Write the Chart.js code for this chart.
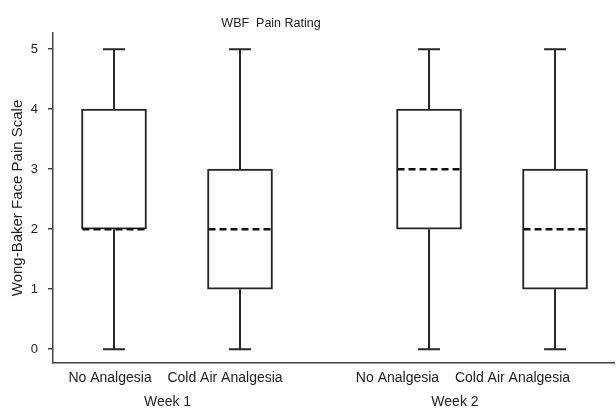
<!DOCTYPE html>
<html>
<head>
<meta charset="utf-8">
<script src="https://cdn.jsdelivr.net/npm/chart.js@4.4.1/dist/chart.umd.min.js"></script>
<style>
html, body { margin: 0; padding: 0; background: #fff; }
#wrap { width: 616px; height: 408px; }
</style>
</head>
<body>
<div id="wrap"><canvas id="boxChart"></canvas></div>
<script>
// WBF pain rating, box plot per group
const groups = ['Week 1', 'Week 2'];
const categories = ['No Analgesia', 'Cold Air Analgesia', 'No Analgesia', 'Cold Air Analgesia'];
const positions = [1, 2, 3.5, 4.5];
const mins = [0, 0, 0, 0];
const q1s = [2, 1, 2, 1];
const medians = [2, 2, 3, 2];
const q3s = [4, 3, 4, 3];
const maxs = [5, 5, 5, 5];
const yTicks = [0, 1, 2, 3, 4, 5];

const CAP = 0.087;   // half width of whisker caps (x units)
const HALF = 0.25;   // half width of the box (x units)
const FONT = "'Liberation Sans', Arial, Helvetica, sans-serif";
const INK = '#262626';

const groupPos = [(positions[0] + positions[1]) / 2, (positions[2] + positions[3]) / 2];

const whiskers = [];
const medianLines = [];
positions.forEach((x, i) => {
    whiskers.push({x: x, y: q3s[i]}, {x: x, y: maxs[i]}, {x: x, y: null});
    whiskers.push({x: x, y: mins[i]}, {x: x, y: q1s[i]}, {x: x, y: null});
    whiskers.push({x: x - CAP, y: maxs[i]}, {x: x + CAP, y: maxs[i]}, {x: x, y: null});
    whiskers.push({x: x - CAP, y: mins[i]}, {x: x + CAP, y: mins[i]}, {x: x, y: null});
    medianLines.push({x: x - HALF, y: medians[i]}, {x: x + HALF, y: medians[i]}, {x: x, y: null});
});

// title sits left of the canvas centre in the original
const shiftTitle = {
    id: 'shiftTitle',
    afterLayout(chart) {
        if (chart.titleBlock) chart.titleBlock.right -= 72;
    }
};

const ctx = document.getElementById('boxChart').getContext('2d');
new Chart(ctx, {
    type: 'scatter',
    data: {
        datasets: [{
            type: 'bar',
            data: positions.map((x, i) => ({x: x, y: [q1s[i], q3s[i]]})),
            backgroundColor: '#ffffff',
            borderColor: INK,
            borderWidth: 2,
            borderSkipped: false,
            barThickness: 65,
            order: 3
        }, {
            data: whiskers,
            showLine: true,
            borderColor: INK,
            borderWidth: 2,
            pointRadius: 0,
            order: 2
        }, {
            data: medianLines,
            showLine: true,
            borderColor: '#111',
            borderWidth: 2.6,
            borderDash: [7, 4],
            pointRadius: 0,
            order: 1
        }]
    },
    options: {
        responsive: true,
        maintainAspectRatio: false,
        animation: false,
        layout: { padding: { left: 0, right: 2, top: 0, bottom: 0 } },
        plugins: {
            legend: { display: false },
            tooltip: { enabled: false },
            title: {
                display: true,
                text: 'WBF  Pain Rating',
                color: '#222',
                font: { family: FONT, size: 12.5, weight: 'normal' },
                padding: { top: 16, bottom: 2 }
            }
        },
        scales: {
            x: {
                type: 'linear',
                min: 0.516,
                max: 4.968,
                offset: false,
                display: false
            },
            xl: {
                type: 'linear',
                position: 'bottom',
                min: 0.504,
                max: 5.383,
                offset: false,
                grid: { display: false, drawTicks: false },
                border: { display: true, color: '#444', width: 1.5 },
                afterBuildTicks: axis => {
                    axis.ticks = positions.concat(groupPos).map(v => ({value: v}));
                },
                afterFit: axis => { axis.height = 45; },
                ticks: {
                    autoSkip: false,
                    maxRotation: 0,
                    minRotation: 0,
                    padding: 3,
                    color: '#222',
                    font: { family: FONT, size: 14, lineHeight: '24px' },
                    callback: (value, index) => index < categories.length
                        ? categories[index]
                        : ['', groups[index - categories.length]]
                }
            },
            y: {
                type: 'linear',
                min: -0.23,
                max: 5.27,
                afterBuildTicks: axis => {
                    axis.ticks = yTicks.map(v => ({value: v}));
                },
                afterFit: axis => { axis.width = 53; },
                grid: {
                    display: true,
                    drawOnChartArea: false,
                    drawTicks: true,
                    tickLength: 5,
                    color: '#444',
                    lineWidth: 1.5
                },
                border: { display: true, color: '#444', width: 1.5 },
                ticks: {
                    padding: 10,
                    color: '#222',
                    font: { family: FONT, size: 13 }
                },
                title: {
                    display: true,
                    text: 'Wong-Baker Face Pain Scale',
                    color: '#222',
                    font: { family: FONT, size: 15 },
                    padding: { top: 9, bottom: 0 }
                }
            }
        }
    },
    plugins: [shiftTitle]
});
</script>
</body>
</html>
